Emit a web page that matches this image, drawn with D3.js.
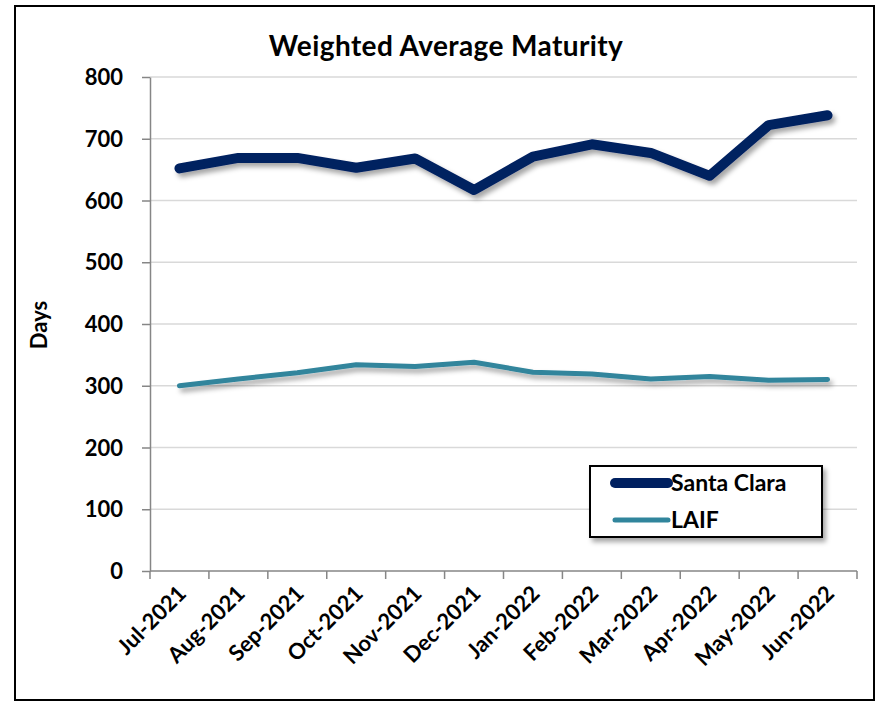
<!DOCTYPE html>
<html>
<head>
<meta charset="utf-8">
<script src="https://cdn.jsdelivr.net/npm/d3@7"></script>
<style>
  body { margin: 0; background: #fff; }
  text { font-family: Lato, "Open Sans", sans-serif; font-weight: bold; fill: #000; }
</style>
</head>
<body>
<div id="chart"></div>
<script>
const months = ["Jul-2021", "Aug-2021", "Sep-2021", "Oct-2021", "Nov-2021", "Dec-2021",
  "Jan-2022", "Feb-2022", "Mar-2022", "Apr-2022", "May-2022", "Jun-2022"];
const santaClara = [652, 669, 669, 653, 668, 617, 671, 691, 677, 640, 722, 738];
const laif = [300, 311, 321, 334, 331, 338, 322, 319, 311, 315, 309, 310];
const yTicks = [0, 100, 200, 300, 400, 500, 600, 700, 800];

const width = 876;
const height = 702;
const margin = { top: 77, right: 19, bottom: 131, left: 150 };
const innerW = width - margin.left - margin.right;
const innerH = height - margin.top - margin.bottom;

const svg = d3.select("#chart")
  .append("svg")
  .attr("width", width)
  .attr("height", height);

// drop shadow like the spreadsheet style
const defs = svg.append("defs");
const shadow = defs.append("filter")
  .attr("id", "shadow")
  .attr("x", "-10%").attr("y", "-30%")
  .attr("width", "130%").attr("height", "180%");
shadow.append("feDropShadow")
  .attr("dx", 3).attr("dy", 4)
  .attr("stdDeviation", 2.5)
  .attr("flood-color", "#000")
  .attr("flood-opacity", 0.35);

// outer frame
svg.append("rect")
  .attr("x", 15).attr("y", 6)
  .attr("width", 859).attr("height", 694)
  .style("fill", "#fff")
  .style("stroke", "#000")
  .style("stroke-width", 2);

svg.append("text")
  .attr("x", 446)
  .attr("y", 56)
  .attr("text-anchor", "middle")
  .style("font-size", "28px")
  .style("letter-spacing", "0.4px")
  .text("Weighted Average Maturity");

const g = svg.append("g")
  .attr("transform", `translate(${margin.left}, ${margin.top})`);

const x = d3.scaleBand()
  .domain(months)
  .range([0, innerW]);

const y = d3.scaleLinear()
  .domain([0, 800])
  .range([innerH, 0]);

// gridlines
g.selectAll(".grid")
  .data(yTicks.filter(t => t > 0))
  .enter()
  .append("line")
  .attr("class", "grid")
  .attr("x1", 0).attr("x2", innerW)
  .attr("y1", d => y(d)).attr("y2", d => y(d))
  .style("stroke", "#d9d9d9")
  .style("stroke-width", 1.5);

// y axis
const yAxis = g.append("g")
  .call(d3.axisLeft(y).tickValues(yTicks).tickSize(8).tickPadding(19).tickSizeOuter(0));
yAxis.select(".domain").style("stroke", "#868686").style("stroke-width", 1.5);
yAxis.selectAll(".tick line").style("stroke", "#868686").style("stroke-width", 1.5);
yAxis.selectAll(".tick text")
  .style("font-size", "22px")
  .style("font-family", "Lato, sans-serif")
  .style("font-weight", "bold")
  .attr("dy", "0.35em");

// x axis with ticks on band edges
const xAxisG = g.append("g")
  .attr("transform", `translate(0, ${innerH})`);
xAxisG.append("line")
  .attr("x1", 0).attr("x2", innerW)
  .style("stroke", "#868686").style("stroke-width", 1.5);
const edges = months.map(m => x(m)).concat([innerW]);
xAxisG.selectAll(".xtick")
  .data(edges)
  .enter()
  .append("line")
  .attr("x1", d => d).attr("x2", d => d)
  .attr("y1", 0).attr("y2", 8)
  .style("stroke", "#868686").style("stroke-width", 1.5);
xAxisG.selectAll(".xlabel")
  .data(months)
  .enter()
  .append("text")
  .attr("text-anchor", "end")
  .attr("transform", d => `translate(${x(d) + x.bandwidth() / 2 + 8}, 24) rotate(-45)`)
  .style("font-size", "22px")
  .text(d => d);

// axis title
svg.append("text")
  .attr("transform", "translate(47, 325) rotate(-90)")
  .attr("text-anchor", "middle")
  .style("font-size", "22px")
  .text("Days");

const line = d3.line()
  .x((d, i) => x(months[i]) + x.bandwidth() / 2)
  .y(d => y(d));

g.append("path")
  .datum(laif)
  .attr("d", line)
  .attr("filter", "url(#shadow)")
  .style("fill", "none")
  .style("stroke", "#31859c")
  .style("stroke-width", 5)
  .style("stroke-linecap", "round")
  .style("stroke-linejoin", "round");

g.append("path")
  .datum(santaClara)
  .attr("d", line)
  .attr("filter", "url(#shadow)")
  .style("fill", "none")
  .style("stroke", "#002060")
  .style("stroke-width", 10)
  .style("stroke-linecap", "round")
  .style("stroke-linejoin", "round");

// legend
const legend = svg.append("g")
  .attr("transform", "translate(590, 466)");
legend.append("rect")
  .attr("width", 232).attr("height", 71)
  .attr("filter", "url(#shadow)")
  .style("fill", "#fff")
  .style("stroke", "#000")
  .style("stroke-width", 2);

const legendItems = [
  { name: "Santa Clara", color: "#002060", w: 10, y: 17 },
  { name: "LAIF", color: "#31859c", w: 5, y: 54 }
];
legendItems.forEach(item => {
  legend.append("line")
    .attr("x1", 25).attr("x2", 78)
    .attr("y1", item.y).attr("y2", item.y)
    .style("stroke", item.color)
    .style("stroke-width", item.w)
    .style("stroke-linecap", "round");
  legend.append("text")
    .attr("x", 81)
    .attr("y", item.y + 8)
    .style("font-size", "23px")
    .text(item.name);
});
</script>
</body>
</html>
